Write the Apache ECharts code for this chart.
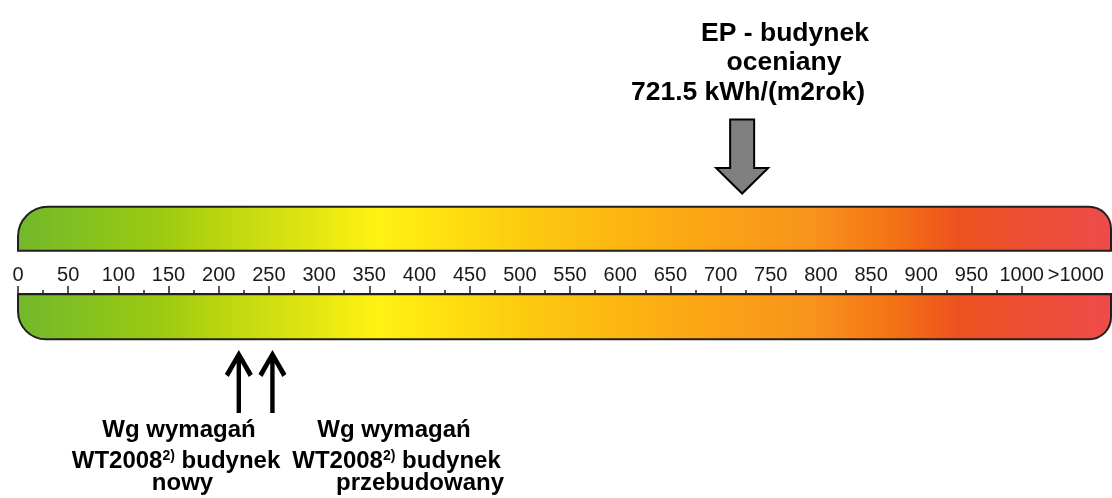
<!DOCTYPE html>
<html>
<head>
<meta charset="utf-8">
<script src="https://cdn.jsdelivr.net/npm/echarts@6/dist/echarts.min.js"></script>
<style>
  html, body { margin: 0; padding: 0; background: #ffffff; }
  #chart { width: 1112px; height: 498px; }
</style>
</head>
<body>
<div id="chart"></div>
<script>
// ---- data ----
const majorTicks = [0, 50, 100, 150, 200, 250, 300, 350, 400, 450, 500, 550, 600, 650, 700, 750, 800, 850, 900, 950, 1000];
const minorTicks = [25, 75, 125, 175, 225, 275, 325, 375, 425, 475, 525, 575, 625, 675, 725, 775, 825, 875, 925, 975];
const overflowLabel = '>1000';
const overflowLabelValue = 1054;
const scaleRange = [0, 1089];
const epValue = 721.5;
const epUnit = 'kWh/(m2rok)';
const wtValues = [220, 253.5];
const epTitle = ['EP - budynek', 'oceniany'];
const wtLabels = [
  ['Wg wymagań', 'WT2008{sup|2)} budynek', 'nowy'],
  ['Wg wymagań', 'WT2008{sup|2)} budynek', 'przebudowany']
];

const FONT = '"Liberation Sans", Arial, sans-serif';
const labelValues = majorTicks.concat([overflowLabelValue]);

const chart = echarts.init(document.getElementById('chart'), null, { renderer: 'canvas' });

const gradientStops = [
  { offset: 0.00, color: '#72b82c' },
  { offset: 0.13, color: '#9bca12' },
  { offset: 0.17, color: '#b2d30f' },
  { offset: 0.33, color: '#fff212' },
  { offset: 0.47, color: '#fdc90f' },
  { offset: 0.63, color: '#fba414' },
  { offset: 0.725, color: '#f8941d' },
  { offset: 0.80, color: '#f47214' },
  { offset: 0.86, color: '#ec5220' },
  { offset: 1.00, color: '#ee4b4b' }
];

function barRender(params, api) {
  const x0 = api.coord([api.value(0), 0])[0];
  const x1 = api.coord([api.value(1), 0])[0];
  const mk = () => new echarts.graphic.LinearGradient(0, 0, 1, 0, gradientStops);
  return {
    type: 'group',
    children: [
      {
        type: 'rect',
        shape: { x: x0, y: 206.7, width: x1 - x0, height: 44, r: [30, 22, 0, 0] },
        style: { fill: mk(), stroke: '#231f20', lineWidth: 2 }
      },
      {
        type: 'rect',
        shape: { x: x0, y: 294.3, width: x1 - x0, height: 45, r: [0, 0, 22, 28] },
        style: { fill: mk(), stroke: '#231f20', lineWidth: 2 }
      }
    ]
  };
}

function downArrowRender(params, api) {
  const cx = api.coord([api.value(0), 0])[0];
  return {
    type: 'polygon',
    shape: {
      points: [
        [cx - 12, 119.5], [cx + 12, 119.5], [cx + 12, 168], [cx + 26, 168],
        [cx, 193.5], [cx - 26, 168], [cx - 12, 168]
      ]
    },
    style: { fill: '#808080', stroke: '#000000', lineWidth: 2, lineJoin: 'miter' }
  };
}

function upArrowRender(params, api) {
  const cx = api.coord([api.value(0), 0])[0];
  const ty = 350;
  const pts = [[0, 0], [14, 24], [10, 27], [2.2, 13], [2.2, 63], [-2.2, 63], [-2.2, 13], [-10, 27], [-14, 24]];
  return {
    type: 'polygon',
    shape: { points: pts.map(p => [cx + p[0], ty + p[1]]) },
    style: { fill: '#000000' }
  };
}

const graphics = [];
// top annotation
graphics.push({
  type: 'text', left: null, x: 785, y: 33.5,
  style: { text: epTitle[0], font: 'bold 26.5px ' + FONT, fill: '#000', align: 'center', verticalAlign: 'middle' }
});
graphics.push({
  type: 'text', x: 784, y: 62.5,
  style: { text: epTitle[1], font: 'bold 26.5px ' + FONT, fill: '#000', align: 'center', verticalAlign: 'middle' }
});
graphics.push({
  type: 'text', x: 748, y: 93,
  style: { text: epValue + ' ' + epUnit, font: 'bold 26.5px ' + FONT, fill: '#000', align: 'center', verticalAlign: 'middle' }
});
// bottom annotations
const lineX = [[179, 176, 182.5], [394, 396.5, 420]];
const lineY = [430.5, 461.5, 483.5];
wtLabels.forEach((lines, bi) => {
  lines.forEach((t, li) => {
    graphics.push({
      type: 'text', x: lineX[bi][li], y: lineY[li],
      style: {
        text: t, fill: '#000', align: 'center', verticalAlign: 'middle',
        fontFamily: FONT, fontWeight: 'bold', fontSize: 24,
        rich: {
          sup: { fontFamily: FONT, fontWeight: 'bold', fontSize: 14, verticalAlign: 'top', padding: [0, 0, 0, 0] }
        }
      }
    });
  });
});

const option = {
  animation: false,
  backgroundColor: '#ffffff',
  grid: { left: 18, right: 0, top: 0, bottom: 204, containLabel: false, outerBoundsMode: 'none' },
  xAxis: [
    {
      type: 'value', min: 0, max: 1090, position: 'bottom',
      splitLine: { show: false },
      axisLine: { show: true, lineStyle: { color: '#231f20', width: 2 } },
      axisTick: { show: true, inside: true, length: 8, customValues: majorTicks, lineStyle: { color: '#231f20', width: 1.5 } },
      axisLabel: {
        show: true, inside: true, margin: 9, customValues: labelValues,
        formatter: v => (v > 1000 ? overflowLabel : String(v)),
        color: '#1a1a1a', fontSize: 20, fontFamily: FONT
      }
    },
    {
      type: 'value', min: 0, max: 1090, position: 'bottom', offset: 0,
      splitLine: { show: false },
      axisLine: { show: false },
      axisTick: { show: true, inside: true, length: 4, customValues: minorTicks, lineStyle: { color: '#231f20', width: 1.5 } },
      axisLabel: { show: false }
    }
  ],
  yAxis: { type: 'value', min: 0, max: 1, show: false },
  series: [
    {
      type: 'custom', xAxisIndex: 0, yAxisIndex: 0, clip: false, z: 1,
      renderItem: barRender,
      data: [scaleRange]
    },
    {
      type: 'custom', xAxisIndex: 0, yAxisIndex: 0, clip: false, z: 3,
      renderItem: downArrowRender,
      data: [[epValue]]
    },
    {
      type: 'custom', xAxisIndex: 0, yAxisIndex: 0, clip: false, z: 3,
      renderItem: upArrowRender,
      data: wtValues.map(v => [v])
    }
  ],
  graphic: graphics
};

chart.setOption(option);
</script>
</body>
</html>
